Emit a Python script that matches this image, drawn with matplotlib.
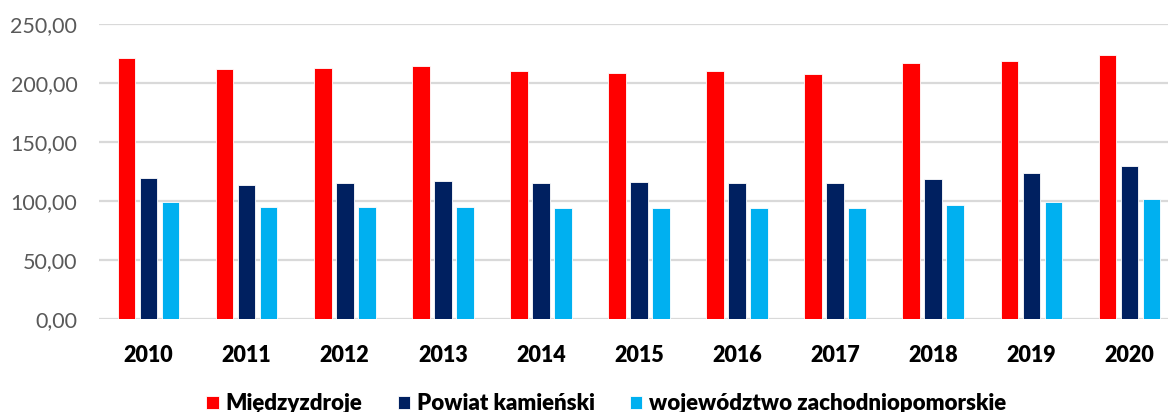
import numpy as np
import matplotlib
matplotlib.use("Agg")
import matplotlib.pyplot as plt
from matplotlib.ticker import FuncFormatter

years = ["2010", "2011", "2012", "2013", "2014", "2015", "2016", "2017", "2018", "2019", "2020"]
miedzyzdroje = [221, 212, 213, 215, 210, 209, 210, 208, 217, 219, 224]
powiat = [120, 114, 115, 117, 115, 116, 115, 115, 119, 124, 130]
wojewodztwo = [99, 95, 95, 95, 94, 94, 94, 94, 97, 99, 102]

series = [
    ("Międzyzdroje", miedzyzdroje, "#FF0000"),
    ("Powiat kamieński", powiat, "#002060"),
    ("województwo zachodniopomorskie", wojewodztwo, "#00B0F0"),
]

plt.rcParams["font.family"] = ["Lato", "DejaVu Sans"]

fig = plt.figure(figsize=(11.68, 4.12), dpi=100)
ax = fig.add_axes([99.5 / 1168, 93 / 412, 1079 / 1168, 294.7 / 412])

x = np.arange(len(years))
step = 0.224
width = 0.18
for i, (name, vals, color) in enumerate(series):
    ax.bar(x + (i - 1) * step, vals, width=width, color=color, label=name,
           edgecolor="white", linewidth=0.6, zorder=3)

ax.set_xlim(-0.5, len(years) - 0.5)
ax.set_ylim(0, 250)
ax.set_yticks(np.arange(0, 251, 50))
ax.yaxis.set_major_formatter(FuncFormatter(lambda v, p: f"{v:.2f}".replace(".", ",")))
ax.set_xticks(x)
ax.set_xticklabels(years, fontweight="heavy", fontsize=15.5, color="black")
ax.tick_params(axis="y", labelsize=15.5, labelcolor="#595959", length=0, pad=16)
ax.tick_params(axis="x", length=0, pad=19)
ax.grid(axis="y", color="#d9d9d9", linewidth=1.6, zorder=0)
for s in ax.spines.values():
    s.set_visible(False)

fig.legend(loc="center", bbox_to_anchor=(0.519, 0.02), ncol=3, frameon=False,
           prop={"weight": "heavy", "size": 16}, handlelength=0.55, handleheight=0.55,
           handletextpad=0.3, columnspacing=1.6)

fig.savefig("out.png", dpi=100)
